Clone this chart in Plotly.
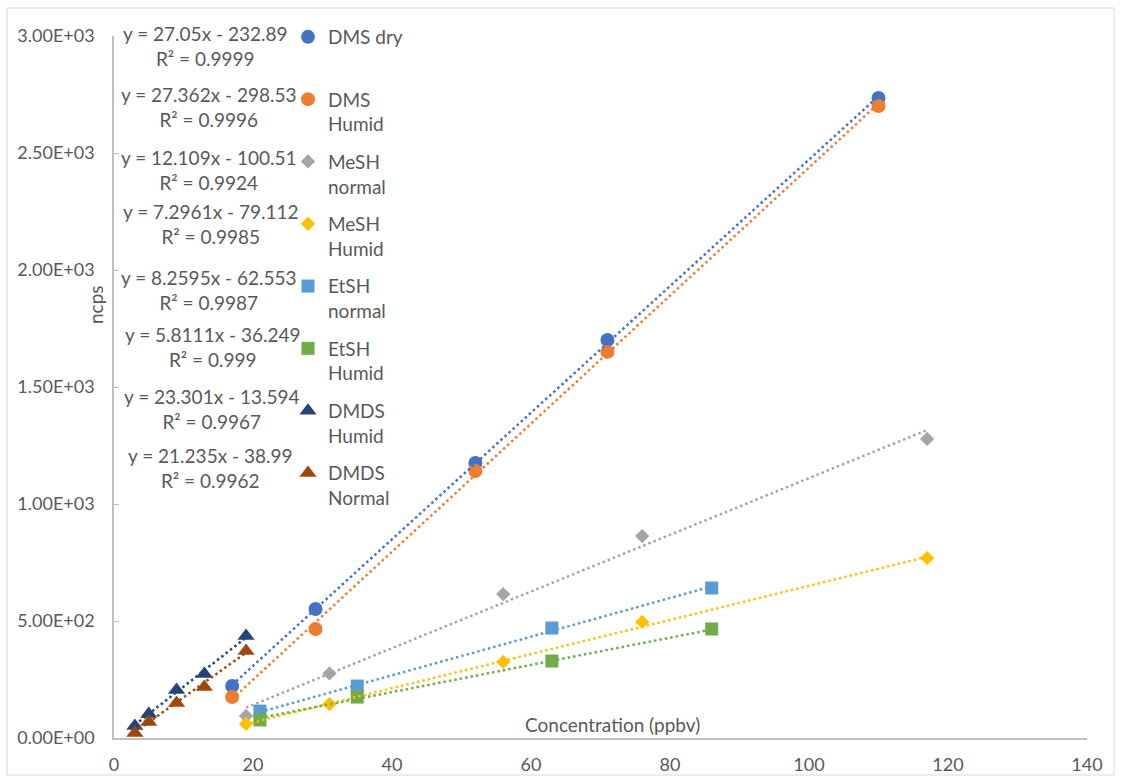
import plotly.graph_objects as go

# ---------------- data ----------------
series_names = ["DMS dry", "DMS Humid", "MeSH normal", "MeSH Humid",
                "EtSH normal", "EtSH Humid", "DMDS Humid", "DMDS Normal"]
legend_labels = ["DMS dry<br>\u00a0", "DMS<br>Humid", "MeSH<br>normal", "MeSH<br>Humid",
                 "EtSH<br>normal", "EtSH<br>Humid", "DMDS<br>Humid", "DMDS<br>Normal"]

dms_x = [17, 29, 52, 71, 110]
dms_dry_y = [222, 551, 1175, 1701, 2735]
dms_humid_y = [175, 466, 1141, 1650, 2701]

mesh_x = [19, 31, 56, 76, 117]
mesh_normal_y = [94, 276, 615, 863, 1278]
mesh_humid_y = [60, 145, 325, 496, 769]

etsh_x = [21, 35, 63, 86]
etsh_normal_y = [115, 222, 470, 641]
etsh_humid_y = [77, 175, 329, 466]

dmds_x = [3, 5, 9, 13, 19]
dmds_humid_y = [51, 103, 205, 274, 436]
dmds_normal_y = [21, 68, 150, 218, 372]

slopes = [27.05, 27.362, 12.109, 7.2961, 8.2595, 5.8111, 23.301, 21.235]
intercepts = [-232.89, -298.53, -100.51, -79.112, -62.553, -36.249, -13.594, -38.99]
eq_texts = ["y = 27.05x - 232.89", "y = 27.362x - 298.53", "y = 12.109x - 100.51",
            "y = 7.2961x - 79.112", "y = 8.2595x - 62.553", "y = 5.8111x - 36.249",
            "y = 23.301x - 13.594", "y = 21.235x - 38.99"]
r2_texts = ["R² = 0.9999", "R² = 0.9996", "R² = 0.9924", "R² = 0.9985",
            "R² = 0.9987", "R² = 0.999", "R² = 0.9967", "R² = 0.9962"]

y_tick_vals = [0, 500, 1000, 1500, 2000, 2500, 3000]
y_tick_text = ["0.00E+00", "5.00E+02", "1.00E+03", "1.50E+03", "2.00E+03", "2.50E+03", "3.00E+03"]
x_tick_vals = [0, 20, 40, 60, 80, 100, 120, 140]

xs = [dms_x, dms_x, mesh_x, mesh_x, etsh_x, etsh_x, dmds_x, dmds_x]
ys = [dms_dry_y, dms_humid_y, mesh_normal_y, mesh_humid_y,
      etsh_normal_y, etsh_humid_y, dmds_humid_y, dmds_normal_y]

# ---------------- styles ----------------
colors = ["#4472C4", "#ED7D31", "#A5A5A5", "#FFC000",
          "#5B9BD5", "#70AD47", "#264478", "#9E480E"]
symbols = ["circle", "circle", "diamond", "diamond",
           "square", "square", "triangle-up", "triangle-up"]
sizes = [14, 14, 11, 11, 13, 13, 15, 15]
FONT = "Lato"
GREY = "#595959"

# target geometry (pixels of the 1121x778 picture)
W, H0 = 1121, 778
L, R = 114, 34
TOP0, BOT0 = 36, 738          # y pixel of 3000 and of 0
SY = 787 / 778                 # compensation for vertical squeeze of the capture
H = round(H0 * SY)
T = TOP0 * SY
B = H - BOT0 * SY
PW = W - L - R
PH0 = BOT0 - TOP0


def px2x(px):
    return (px - L) / PW


def py2y(py):
    return (BOT0 - py) / PH0


fig = go.Figure()

for i in range(8):
    fig.add_trace(go.Scatter(
        x=xs[i], y=ys[i], mode="markers", name=legend_labels[i],
        legendgroup=series_names[i],
        marker=dict(color=colors[i], symbol=symbols[i], size=sizes[i], line=dict(width=0)),
    ))

for i in range(8):
    x0, x1 = min(xs[i]), max(xs[i])
    fig.add_trace(go.Scatter(
        x=[x0, x1], y=[slopes[i] * x0 + intercepts[i], slopes[i] * x1 + intercepts[i]],
        mode="lines", showlegend=False, legendgroup=series_names[i], hoverinfo="skip",
        line=dict(color=colors[i], width=2.5, dash="2.5px,3px"),
    ))

# equation labels (positions in pixels)
eq_pos = [(205, 46.5), (209, 107), (209, 169.5), (211, 224.5),
          (209, 289.5), (213, 346.5), (212, 408.5), (210, 467.5)]
annotations = []
for i in range(8):
    ex, ey = eq_pos[i]
    annotations.append(dict(
        x=px2x(ex), y=py2y(ey), xref="paper", yref="paper",
        text=eq_texts[i] + "<br>" + r2_texts[i], showarrow=False,
        xanchor="center", yanchor="middle", align="center",
        font=dict(family=FONT, size=19, color=GREY),
    ))

annotations.append(dict(
    x=px2x(612), y=py2y(724), xref="paper", yref="paper",
    text="Concentration (ppbv)", showarrow=False, xanchor="center", yanchor="middle",
    font=dict(family=FONT, size=19, color=GREY),
))
annotations.append(dict(
    x=px2x(95), y=py2y(305), xref="paper", yref="paper",
    text="ncps", showarrow=False, textangle=-90, xanchor="center", yanchor="middle",
    font=dict(family=FONT, size=19, color=GREY),
))

fig.update_layout(
    width=W, height=H,
    margin=dict(l=L, r=R, t=T, b=B, pad=0),
    paper_bgcolor="white", plot_bgcolor="white",
    font=dict(family=FONT, color=GREY),
    showlegend=True,
    legend=dict(
        x=px2x(288), y=py2y(18), xanchor="left", yanchor="top",
        traceorder="grouped", tracegroupgap=9.9, valign="top",
        bgcolor="rgba(0,0,0,0)", borderwidth=0, maxheight=760,
        font=dict(family=FONT, size=19, color=GREY),
    ),
    xaxis=dict(
        range=[0, 140], tickvals=x_tick_vals, showgrid=False, zeroline=False,
        showline=True, linecolor="#BFBFBF", linewidth=1.5, ticks="",
        tickfont=dict(family=FONT, size=18, color=GREY), ticklabelstandoff=10,
    ),
    yaxis=dict(
        range=[0, 3000], tickvals=y_tick_vals, ticktext=y_tick_text,
        showgrid=False, zeroline=False,
        showline=True, linecolor="#BFBFBF", linewidth=1.5,
        ticks="inside", ticklen=5, tickcolor="#BFBFBF",
        tickfont=dict(family=FONT, size=18, color=GREY), ticklabelstandoff=14,
    ),
    annotations=annotations,
    shapes=[dict(type="rect", xref="paper", yref="paper",
                 x0=px2x(7), x1=px2x(1114), y0=py2y(775), y1=py2y(8),
                 line=dict(color="#D9D9D9", width=1), layer="below")],
)

post_js = (
    "document.documentElement.style.margin='0';"
    "document.documentElement.style.padding='0';"
    "document.documentElement.style.overflow='hidden';"
    "document.body.style.margin='0';"
    "document.body.style.padding='0';"
    "document.body.style.overflow='hidden';"
)

fig.write_html("out.html", post_script=post_js, config={"displayModeBar": False})
